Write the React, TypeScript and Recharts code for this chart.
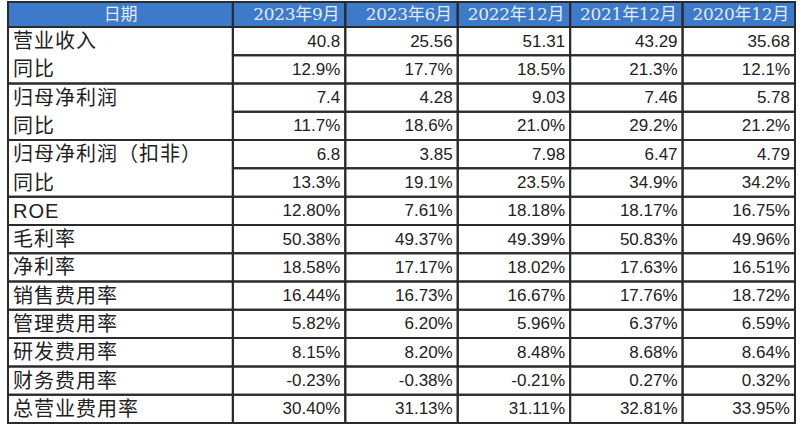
import { ScatterChart, Scatter, XAxis, YAxis, ReferenceArea } from 'recharts';

// table content
const dateColumns = ['2023年9月', '2023年6月', '2022年12月', '2021年12月', '2020年12月'];
const headerTitle = '日期';

const rowLabels = [
  '营业收入', '同比', '归母净利润', '同比', '归母净利润（扣非）', '同比',
  'ROE', '毛利率', '净利率', '销售费用率', '管理费用率', '研发费用率', '财务费用率', '总营业费用率',
];

const revenue = [40.8, 25.56, 51.31, 43.29, 35.68];
const revenueYoy = [12.9, 17.7, 18.5, 21.3, 12.1];
const netProfit = [7.4, 4.28, 9.03, 7.46, 5.78];
const netProfitYoy = [11.7, 18.6, 21.0, 29.2, 21.2];
const netProfitDeducted = [6.8, 3.85, 7.98, 6.47, 4.79];
const netProfitDeductedYoy = [13.3, 19.1, 23.5, 34.9, 34.2];
const roe = [12.8, 7.61, 18.18, 18.17, 16.75];
const grossMargin = [50.38, 49.37, 49.39, 50.83, 49.96];
const netMargin = [18.58, 17.17, 18.02, 17.63, 16.51];
const sellingExpenseRate = [16.44, 16.73, 16.67, 17.76, 18.72];
const adminExpenseRate = [5.82, 6.2, 5.96, 6.37, 6.59];
const rdExpenseRate = [8.15, 8.2, 8.48, 8.68, 8.64];
const financeExpenseRate = [-0.23, -0.38, -0.21, 0.27, 0.32];
const totalExpenseRate = [30.4, 31.13, 31.11, 32.81, 33.95];

const plain = (v: number) => String(v);
const pct1 = (v: number) => v.toFixed(1) + '%';
const pct2 = (v: number) => v.toFixed(2) + '%';

const rows: [number[], (v: number) => string][] = [
  [revenue, plain], [revenueYoy, pct1],
  [netProfit, plain], [netProfitYoy, pct1],
  [netProfitDeducted, plain], [netProfitDeductedYoy, pct1],
  [roe, pct2], [grossMargin, pct2], [netMargin, pct2], [sellingExpenseRate, pct2],
  [adminExpenseRate, pct2], [rdExpenseRate, pct2], [financeExpenseRate, pct2], [totalExpenseRate, pct2],
];

// first column is two units wide, each date column one unit; the header sits above y=1
const LABEL_SPAN = 2;
const HEADER_TOP = 0.12; // header is a bit shorter than body rows
const totalCols = LABEL_SPAN + dateColumns.length;
const totalRows = rowLabels.length + 1;

const HEADER_BG = '#3e7aca';
const HEADER_TEXT = '#e2ebf8';
const BORDER = '#2b2b2b';

const headerMid = (HEADER_TOP + 1) / 2;
const headerCells = [
  { x: LABEL_SPAN / 2, y: headerMid, text: headerTitle, anchor: 'middle' },
  ...dateColumns.map((d, j) => ({ x: LABEL_SPAN + j + 1, y: headerMid, text: d, anchor: 'end' })),
];
const labelCells = rowLabels.map((l, i) => ({ x: 0, y: i + 1.5, text: l }));
const valueCells = rows.flatMap(([vals, fmt], i) =>
  vals.map((v, j) => ({ x: LABEL_SPAN + j + 1, y: i + 1.5, text: fmt(v) })),
);

// label cells: a "同比" row shares its cell with the row above
const labelSpans: { y1: number; y2: number }[] = [];
rowLabels.forEach((l, i) => {
  if (l === '同比' && labelSpans.length) labelSpans[labelSpans.length - 1].y2 = i + 2;
  else labelSpans.push({ y1: i + 1, y2: i + 2 });
});

export default function App() {
  return (
    <div style={{ position: 'absolute', left: 0, top: 0, background: '#fff' }}>
      <ScatterChart width={800} height={431} margin={{ top: 2, right: 5, bottom: 8, left: 8 }}>
        <XAxis type="number" dataKey="x" domain={[0, totalCols]} hide />
        <YAxis type="number" dataKey="y" domain={[HEADER_TOP, totalRows]} reversed hide allowDataOverflow />
        <ReferenceArea x1={0} x2={totalCols} y1={HEADER_TOP} y2={1} fill={HEADER_BG} fillOpacity={1} stroke={BORDER} strokeWidth={2} />
        <ReferenceArea x1={0} x2={LABEL_SPAN} y1={HEADER_TOP} y2={1} fill="none" stroke={BORDER} strokeWidth={2} />
        {dateColumns.map((d, j) => (
          <ReferenceArea key={'h' + d} x1={LABEL_SPAN + j} x2={LABEL_SPAN + j + 1} y1={HEADER_TOP} y2={1} fill="none" stroke={BORDER} strokeWidth={2} />
        ))}
        {labelSpans.map((s, k) => (
          <ReferenceArea key={'l' + k} x1={0} x2={LABEL_SPAN} y1={s.y1} y2={s.y2} fill="none" stroke={BORDER} strokeWidth={2} />
        ))}
        {rows.map((_, i) =>
          dateColumns.map((d, j) => (
            <ReferenceArea key={`c${i}-${j}`} x1={LABEL_SPAN + j} x2={LABEL_SPAN + j + 1} y1={i + 1} y2={i + 2} fill="none" stroke={BORDER} strokeWidth={2} />
          )),
        )}
        <Scatter
          data={headerCells}
          isAnimationActive={false}
          shape={(p: any) => (
            <text x={p.cx} y={p.cy} dx={p.payload.anchor === 'end' ? -6 : 0} textAnchor={p.payload.anchor} dominantBaseline="central"
              fontFamily="'DejaVu Serif', 'Noto Sans CJK SC', serif" fontSize={17} letterSpacing={-0.3} fill={HEADER_TEXT}>
              {p.payload.text}
            </text>
          )}
        />
        <Scatter
          data={labelCells}
          isAnimationActive={false}
          shape={(p: any) => (
            <text x={p.cx} y={p.cy} dx={5} textAnchor="start" dominantBaseline="central"
              fontFamily="'Liberation Sans', 'Noto Sans CJK SC', sans-serif" fontSize={20} letterSpacing={1} fill="#222">
              {p.payload.text}
            </text>
          )}
        />
        <Scatter
          data={valueCells}
          isAnimationActive={false}
          shape={(p: any) => (
            <text x={p.cx} y={p.cy} dx={-5} textAnchor="end" dominantBaseline="central"
              fontFamily="'Liberation Sans', Arial, sans-serif" fontSize={17} fill="#222">
              {p.payload.text}
            </text>
          )}
        />
      </ScatterChart>
    </div>
  );
}
